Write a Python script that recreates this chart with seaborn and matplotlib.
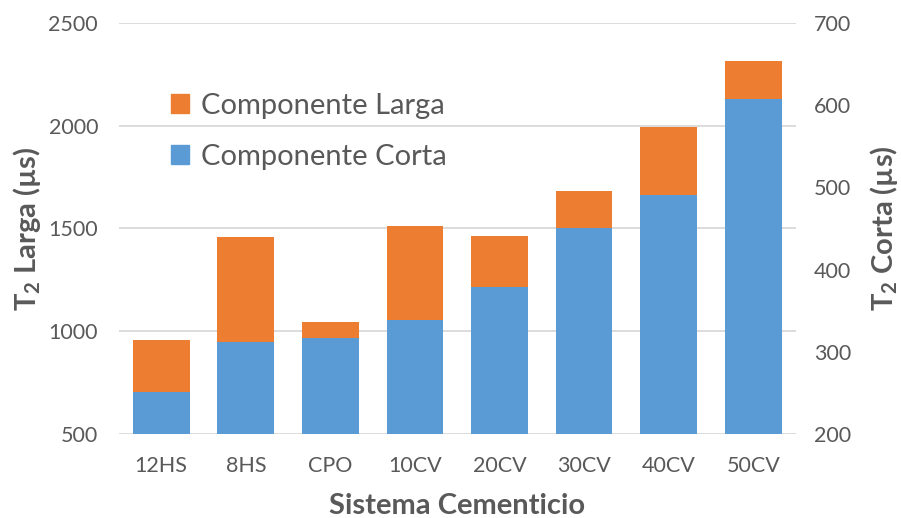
import matplotlib
matplotlib.use("Agg")
import matplotlib.pyplot as plt
import seaborn as sns
from matplotlib.patches import Patch

categories = ["12HS", "8HS", "CPO", "10CV", "20CV", "30CV", "40CV", "50CV"]
larga = [958, 1460, 1047, 1513, 1461, 1684, 1992, 2312]
corta = [251, 312, 317, 339, 379, 451, 491, 607]

orange = "#ED7D31"
blue = "#5B9BD5"
textc = "#595959"
gridc = "#D9D9D9"

sns.set_theme(style="white")
plt.rcParams["font.family"] = ["Lato", "DejaVu Sans"]
plt.rcParams["mathtext.fontset"] = "custom"
plt.rcParams["mathtext.rm"] = "Lato"
plt.rcParams["mathtext.bf"] = "Lato:bold"

fig = plt.figure(figsize=(9.01, 5.18), dpi=100)
ax = fig.add_axes([0.132, 0.162, 0.751, 0.794])
ax2 = ax.twinx()

sns.barplot(x=categories, y=larga, color=orange, saturation=1, width=0.67, linewidth=0, ax=ax)
sns.barplot(x=categories, y=corta, color=blue, saturation=1, width=0.67, linewidth=0, ax=ax2)

ax.set_ylim(500, 2500)
ax.set_yticks([500, 1000, 1500, 2000, 2500])
ax2.set_ylim(200, 700)
ax2.set_yticks([200, 300, 400, 500, 600, 700])
ax.set_xlim(-0.5, 7.5)

ax.grid(axis="y", color=gridc, linewidth=1.3)
ax.set_axisbelow(True)
for a in (ax, ax2):
    for s in a.spines.values():
        s.set_visible(False)
    a.tick_params(length=0, labelsize=15.5, colors=textc, pad=8)
ax.tick_params(axis="y", pad=15)
ax2.tick_params(axis="y", pad=13)
ax.tick_params(axis="x", pad=16)

ax.set_xlabel("Sistema Cementicio", fontsize=21, fontweight="bold", color=textc, labelpad=12)
ax.set_ylabel(r"$\mathbf{T_2}$ Larga (µs)", fontsize=21, fontweight="bold", color=textc, labelpad=4)
ax2.set_ylabel(r"$\mathbf{T_2}$ Corta (µs)", fontsize=21, fontweight="bold", color=textc, labelpad=12)

handles = [Patch(color=orange, label="Componente Larga"), Patch(color=blue, label="Componente Corta")]
ax2.legend(handles=handles, loc="upper left", bbox_to_anchor=(0.06, 0.858), frameon=False,
           fontsize=21, labelcolor=textc, handlelength=0.62, handleheight=0.62,
           handletextpad=0.4, labelspacing=0.85, borderaxespad=0)

fig.savefig("out.png", dpi=100)
